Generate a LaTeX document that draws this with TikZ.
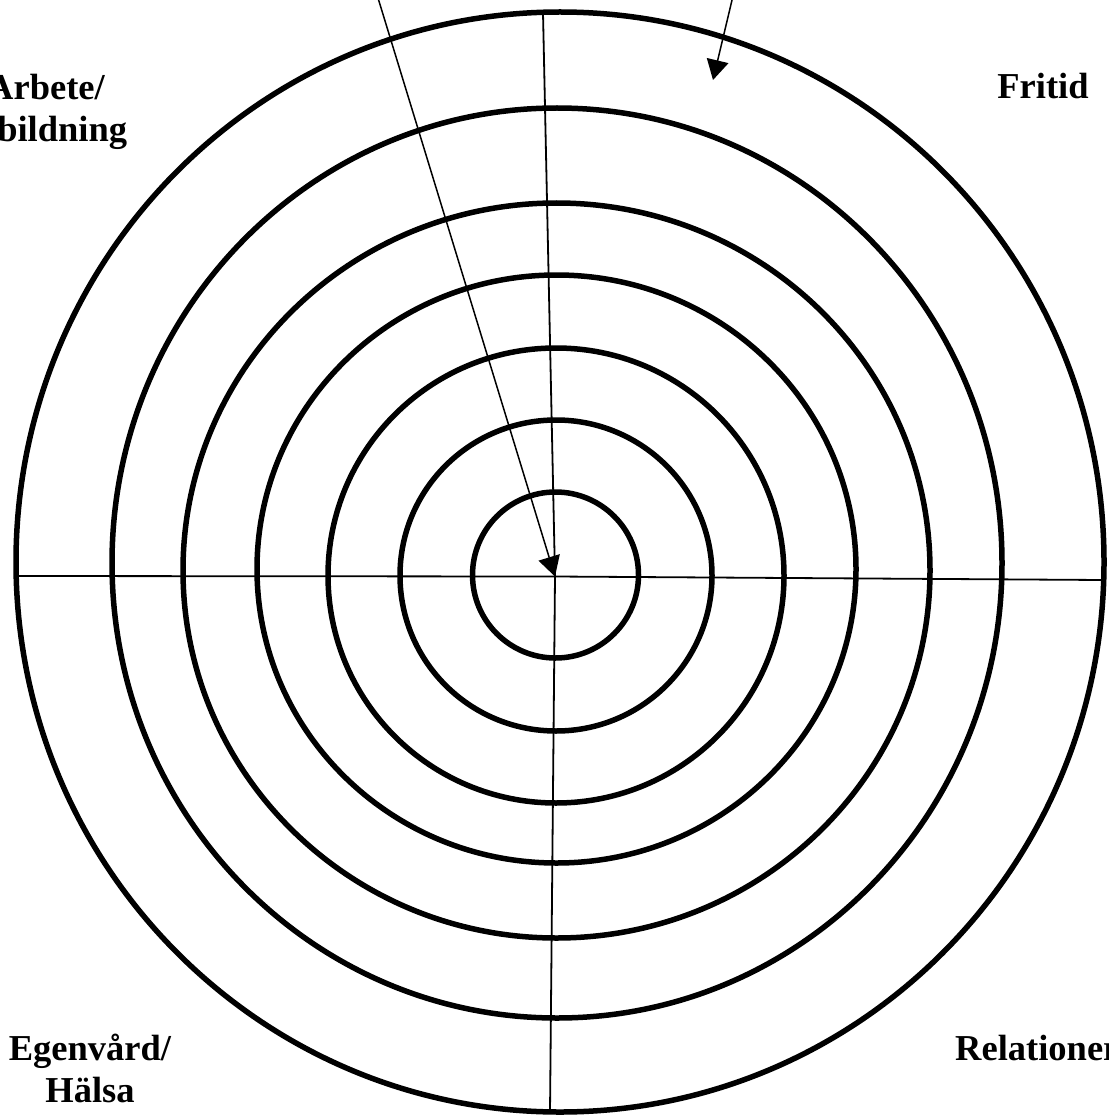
\documentclass[tikz,border=0pt]{standalone}
\usepackage{fontspec}
\setmainfont{Liberation Serif}
\usetikzlibrary{arrows.meta}
\begin{document}
\begin{tikzpicture}[x=1pt,y=-1pt,
  ring/.style={line width=5.5pt},
  axis/.style={line width=1.8pt},
  arr/.style={line width=1.5pt,-{Triangle[length=20pt 0 0,width=22pt 0 0]}},
  lab/.style={font=\fontsize{36.5}{42}\selectfont\bfseries,inner sep=0pt,align=center}]
\useasboundingbox (0,0) rectangle (1108,1115);
\clip (0,0) rectangle (1108,1115);
% rings
\draw[ring] (555.5,575) circle [radius=83];
\draw[ring] (556,575.5) ellipse [x radius=156,y radius=155.5];
\draw[ring] (556,575.5) ellipse [x radius=228,y radius=227.5];
\draw[ring] (556.5,569) ellipse [x radius=299.5,y radius=294];
\draw[ring] (556.5,570.5) ellipse [x radius=373.5,y radius=367.5];
\draw[ring] (557,563) ellipse [x radius=445,y radius=455];
\draw[ring] (560,562) ellipse [x radius=544,y radius=550];
% axes
\coordinate (c) at (555,576.5);
\coordinate (top) at (543,13);
\coordinate (bot) at (550,1112);
\coordinate (lft) at (16,576);
\coordinate (rgt) at (1103,580);
\draw[axis] (top) -- (c) -- (bot);
\draw[axis] (lft) -- (c) -- (rgt);
% arrows
\coordinate (a1s) at (378,-2);
\coordinate (a2s) at (732.5,-2);
\coordinate (a2e) at (713,80);
\draw[arr] (a1s) -- (c);
\draw[arr] (a2s) -- (a2e);
% labels
\node[lab,anchor=base] (arbete) at (46,142) {Arbete/\\utbildning};
\node[lab,anchor=base] (fritid) at (1043,99) {Fritid};
\node[lab,anchor=base] (egen) at (90,1102) {Egenvård/\\Hälsa};
\node[lab,anchor=base west] (rel) at (955,1060) {Relationer};
\end{tikzpicture}
\end{document}
